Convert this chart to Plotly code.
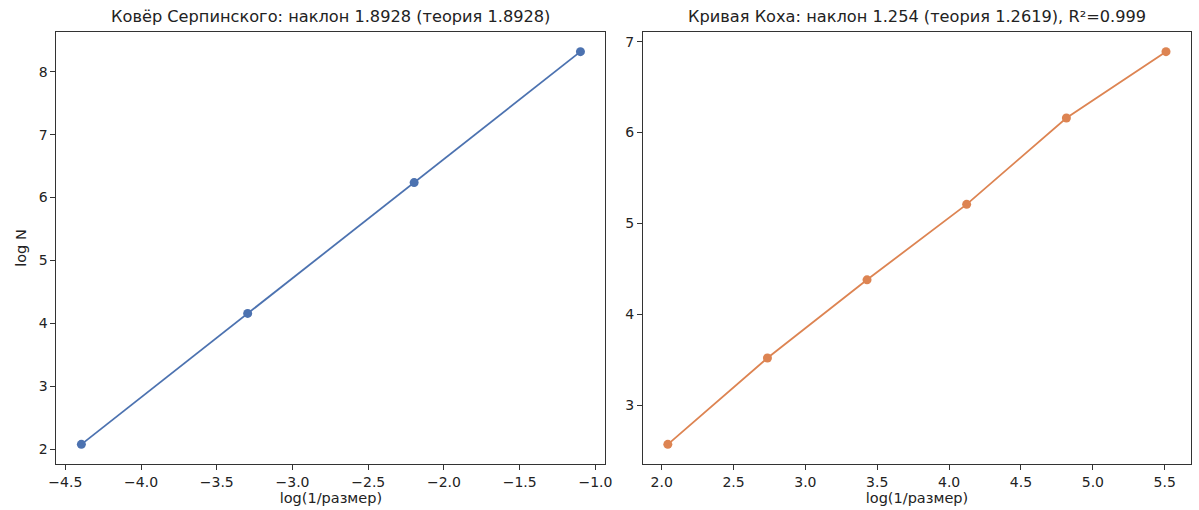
import plotly.graph_objects as go

# Sierpinski carpet data
carpet_x = [-4.394, -3.296, -2.197, -1.099]
carpet_y = [2.079, 4.159, 6.238, 8.318]
# Koch curve data
koch_x = [2.043, 2.736, 3.429, 4.122, 4.816, 5.509]
koch_y = [2.57, 3.52, 4.38, 5.21, 6.16, 6.89]

title_left = "Ковёр Серпинского: наклон 1.8928 (теория 1.8928)"
title_right = "Кривая Коха: наклон 1.254 (теория 1.2619), R²=0.999"
xlabel = "log(1/размер)"
ylabel = "log N"

W, H = 1199, 510
FONT = "DejaVu Sans"

fig = go.Figure()
fig.add_trace(go.Scatter(x=carpet_x, y=carpet_y, mode="lines+markers",
                         line=dict(color="#4C72B0", width=1.8),
                         marker=dict(color="#4C72B0", size=9),
                         xaxis="x", yaxis="y", showlegend=False))
fig.add_trace(go.Scatter(x=koch_x, y=koch_y, mode="lines+markers",
                         line=dict(color="#DD8452", width=1.8),
                         marker=dict(color="#DD8452", size=9),
                         xaxis="x2", yaxis="y2", showlegend=False))

ax_common = dict(showline=True, mirror=True, linecolor="#333333", linewidth=1,
                 ticks="outside", ticklen=5, tickcolor="#333333", tickwidth=1,
                 showgrid=False, zeroline=False,
                 tickfont=dict(family=FONT, size=14, color="#222222"))

yb = (510 - 464) / H
yt = (510 - 32) / H

fig.update_layout(
    width=W, height=H,
    margin=dict(l=0, r=0, t=0, b=0),
    paper_bgcolor="white", plot_bgcolor="white",
    font=dict(family=FONT, color="#222222"),
    xaxis=dict(domain=[49 / W, 605 / W], range=[-4.559, -0.934],
               tick0=-4.5, dtick=0.5, tickformat=".1f", anchor="y",
               title=dict(text=xlabel, font=dict(family=FONT, size=14.5), standoff=4),
               **ax_common),
    yaxis=dict(domain=[yb, yt], range=[1.767, 8.630], dtick=1, anchor="x",
               title=dict(text=ylabel, font=dict(family=FONT, size=14.5), standoff=8),
               **ax_common),
    xaxis2=dict(domain=[643 / W, 1198 / W], range=[1.870, 5.683],
                tick0=2.0, dtick=0.5, tickformat=".1f", anchor="y2",
                title=dict(text=xlabel, font=dict(family=FONT, size=14.5), standoff=4),
                **ax_common),
    yaxis2=dict(domain=[yb, yt], range=[2.354, 7.106], dtick=1, anchor="x2",
                **ax_common),
    annotations=[
        dict(text=title_left, x=(49 + 605) / 2 / W, y=yt, xref="paper", yref="paper",
             xanchor="center", yanchor="bottom", yshift=4, showarrow=False,
             font=dict(family=FONT, size=16.2, color="#222222")),
        dict(text=title_right, x=(643 + 1198) / 2 / W, y=yt, xref="paper", yref="paper",
             xanchor="center", yanchor="bottom", yshift=4, showarrow=False,
             font=dict(family=FONT, size=16.2, color="#222222")),
    ],
)

fig.write_html("out.html", config={"displayModeBar": False},
               post_script="document.body.style.margin='0';document.body.style.overflow='hidden';")
